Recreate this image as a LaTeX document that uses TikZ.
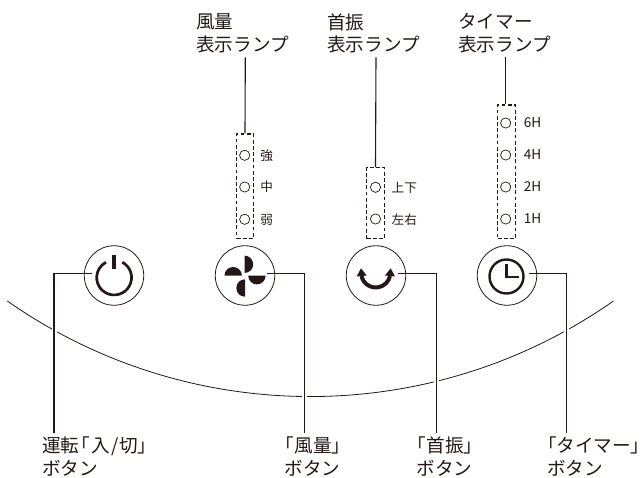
\documentclass[tikz,border=0pt]{standalone}
\usepackage{fontspec}
\setmainfont{Noto Sans CJK JP}
\newfontfamily\paltfont[RawFeature=+palt]{Noto Sans CJK JP}
\newcommand{\lbr}{{\paltfont 「}}
\newcommand{\rbr}{{\paltfont 」}}
\definecolor{ink}{HTML}{231815}
\tikzset{
  x=1pt,y=-1pt,
  btn/.style={circle,draw=ink,line width=.8pt,minimum size=59.5pt,inner sep=0pt},
  led/.style={circle,draw=ink,line width=.7pt,minimum size=10.2pt,inner sep=0pt},
  lampbox/.style={draw=ink,line width=1.1pt,dash pattern=on 3.8pt off 2.4pt},
  leader/.style={draw=ink,line width=1.1pt},
  halo/.style={draw=white,line width=5pt},
  lab/.style={inner sep=0pt,align=left,font=\fontsize{18.6}{22.5}\selectfont,text=ink,anchor=north west},
  sm/.style={inner sep=0pt,font=\fontsize{12.6}{13}\selectfont,text=ink},
  smh/.style={inner sep=0pt,font=\fontsize{13.6}{14}\selectfont,text=ink},
  icon/.style={draw=ink,line width=2.7pt},
}
\begin{document}
\begin{tikzpicture}
\useasboundingbox (0,0) rectangle (643,478);
% casing curve
\draw[ink,line width=.8pt] (7.3,301) arc[start angle=125,end angle=55,radius=528.4];
% buttons
\node[btn] (pwr) at (114,275.5) {};
\node[btn] (fan) at (245,275.5) {};
\node[btn] (swing) at (376,275.5) {};
\node[btn] (tim) at (507,275.5) {};
% power icon
\draw[icon] (122.3,262.2) arc[start angle=-62,end angle=242,radius=17.4];
\draw[ink,line width=3.6pt] (114,254.7) -- (114,268.7);
% fan icon
\fill[ink] (244.5,255.6) arc[start angle=-90,end angle=90,radius=8.7] -- cycle;
\fill[ink] (265.6,275.7) arc[start angle=0,end angle=180,radius=8.7] -- cycle;
\fill[ink] (224.5,275.7) arc[start angle=180,end angle=360,radius=8.7] -- cycle;
\fill[ink] (245,296.7) arc[start angle=90,end angle=270,radius=8.7] -- cycle;
% swing icon
\draw[ink,line width=4pt] (361.47,275.9) arc[start angle=168,end angle=12,radius=14.6];
\fill[ink] (361,268.3) -- (356.7,276.5) -- (366.7,275.5) -- cycle;
\fill[ink] (390.7,268.3) -- (395,276.5) -- (385,275.5) -- cycle;
% clock icon
\draw[ink,line width=2.4pt] (506.5,276.5) circle[radius=17];
\draw[ink,line width=2.4pt] (506.3,264) -- (506.3,277) -- (518.5,277);
% lamp boxes
\node[lampbox,minimum width=16.6pt,minimum height=104.7pt,inner sep=0pt] (boxA) at (245,186.35) {};
\node[lampbox,minimum width=17.6pt,minimum height=71pt,inner sep=0pt] (boxB) at (375.5,203.2) {};
\node[lampbox,minimum width=17.6pt,minimum height=133.7pt,inner sep=0pt] (boxC) at (506.5,171.85) {};
% LEDs
\node[led] (a1) at (244.7,155.3) {};
\node[led] (a2) at (244.7,187) {};
\node[led] (a3) at (244.7,219.3) {};
\node[led] (b1) at (375.5,187.3) {};
\node[led] (b2) at (375.5,219) {};
\node[led] (c1) at (505.7,123) {};
\node[led] (c2) at (505.7,155) {};
\node[led] (c3) at (505.7,187) {};
\node[led] (c4) at (505.7,219) {};
% LED labels
\node[sm] (ta1) at (266.7,155.5) {強};
\node[sm] (ta2) at (266.7,187) {中};
\node[sm] (ta3) at (266.7,219.5) {弱};
\node[sm,anchor=west] (tb1) at (391.5,187.5) {上下};
\node[sm,anchor=west] (tb2) at (391.5,219.5) {左右};
\node[smh,anchor=east] (tc1) at (541.5,123) {6H};
\node[smh,anchor=east] (tc2) at (541.5,155) {4H};
\node[smh,anchor=east] (tc3) at (541.5,187) {2H};
\node[smh,anchor=east] (tc4) at (541.5,219) {1H};
% top labels
\node[lab] (la) at (196,13.5) {風量\\表示ランプ};
\node[lab] (lb) at (327,13.5) {首振\\表示ランプ};
\node[lab] (lc) at (458,13.5) {タイマー\\表示ランプ};
% bottom labels
\node[lab] (l1) at (42,437) {運転\kern1pt\lbr\kern2pt 入\kern1pt/\kern1pt 切\rbr\\ボタン};
\node[lab] (l2) at (284.5,437) {\lbr\kern.5pt 風量\kern.5pt\rbr\\ボタン};
\node[lab] (l3) at (416.5,437) {\lbr\kern.5pt 首振\kern.5pt\rbr\\ボタン};
\node[lab] (l4) at (547,437) {\lbr タイマー\rbr\\ボタン};
% free ends of the leaders
\coordinate (ja) at (245.3,57.3);
\coordinate (jb) at (376,57.3);
\coordinate (jc) at (505.7,57.3);
\coordinate (p1) at (54,273.4);
\coordinate (e1) at (54,433);
\coordinate (s2) at (267,273.4);
\coordinate (p2) at (304.6,273.4);
\coordinate (e2) at (304.6,433);
\coordinate (s3) at (398,273.4);
\coordinate (p3) at (436.7,273.4);
\coordinate (e3) at (436.7,433);
\coordinate (s4) at (529,273.4);
\coordinate (p4) at (566.8,273.4);
\coordinate (e4) at (566.8,433);
\coordinate (s1) at (92,273.4);
% halo where leaders cross the curve
\draw[halo] (54,320) -- (54,340);
\draw[halo] (304.6,385) -- (304.6,405);
\draw[halo] (436.7,370) -- (436.7,395);
\draw[halo] (566.8,320) -- (566.8,340);
% leaders
\draw[leader] (ja) -- (boxA.north);
\draw[leader] (jb) -- (boxB.north);
\draw[leader] (jc) -- (boxC.north -| jc);
\draw[leader] (s1) -- (p1) -- (e1);
\draw[leader] (s2) -- (p2) -- (e2);
\draw[leader] (s3) -- (p3) -- (e3);
\draw[leader] (s4) -- (p4) -- (e4);
\end{tikzpicture}
\end{document}
